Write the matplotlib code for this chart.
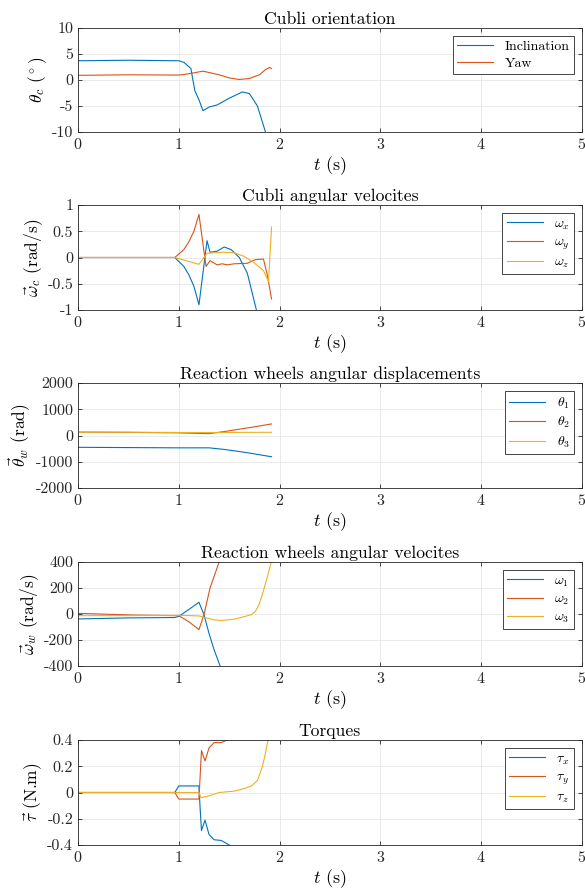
import matplotlib
matplotlib.use("Agg")
import matplotlib.pyplot as plt

plt.rcParams["font.family"] = "serif"
plt.rcParams["font.serif"] = ["cmr10", "DejaVu Serif"]
plt.rcParams["mathtext.fontset"] = "cm"
plt.rcParams["axes.formatter.use_mathtext"] = True
plt.rcParams["axes.unicode_minus"] = False

C1, C2, C3 = "#0072BD", "#D95319", "#EDB120"

# --- Cubli orientation (deg)
t_incl = [0, 0.5, 1.0, 1.05, 1.12, 1.14, 1.16, 1.2, 1.24, 1.3, 1.38, 1.5, 1.63, 1.7, 1.78, 1.86, 1.9]
incl = [3.7, 3.8, 3.7, 3.4, 2.2, 0.0, -2.1, -3.8, -5.9, -5.2, -4.8, -3.5, -2.3, -2.6, -5.0, -10.0, -12.5]
t_yaw = [0, 0.5, 1.0, 1.1, 1.24, 1.4, 1.5, 1.6, 1.7, 1.8, 1.86, 1.9, 1.92]
yaw = [0.9, 1.0, 0.95, 1.2, 1.7, 1.0, 0.4, 0.1, 0.3, 1.0, 2.0, 2.4, 2.2]

# --- Cubli angular velocities (rad/s)
t_wx = [0, 0.5, 0.96, 1.05, 1.1, 1.15, 1.2, 1.28, 1.31, 1.38, 1.45, 1.52, 1.6, 1.68, 1.77, 1.8]
wx = [0, 0, 0, -0.17, -0.33, -0.55, -0.9, 0.32, 0.1, 0.12, 0.2, 0.15, 0.0, -0.3, -1.0, -1.3]
t_wy = [0, 0.5, 0.96, 1.05, 1.1, 1.15, 1.2, 1.27, 1.31, 1.38, 1.43, 1.48, 1.55, 1.68, 1.76, 1.84, 1.88, 1.92]
wy = [0, 0, 0, 0.15, 0.3, 0.5, 0.82, -0.17, -0.06, -0.14, -0.12, -0.14, -0.12, -0.11, -0.04, -0.03, -0.35, -0.79]
t_wz = [0, 0.5, 0.96, 1.2, 1.28, 1.45, 1.55, 1.65, 1.74, 1.84, 1.89, 1.92]
wz = [0, 0, 0, -0.13, 0.08, 0.1, 0.09, 0.02, -0.09, -0.25, -0.46, 0.58]

# --- Reaction wheels angular displacements (rad)
t_th = [0, 0.5, 1.0, 1.3, 1.45, 1.6, 1.75, 1.92]
th1 = [-450, -460, -470, -470, -530, -610, -700, -810]
th2 = [130, 120, 100, 70, 150, 240, 330, 440]
th3 = [130, 125, 115, 110, 115, 118, 120, 122]

# --- Reaction wheels angular velocities (rad/s)
t_om1 = [0, 0.5, 0.96, 1.0, 1.1, 1.2, 1.25, 1.3, 1.35, 1.41, 1.45]
om1 = [-38, -30, -27, -18, 35, 90, -5, -150, -275, -400, -480]
t_om2 = [0, 0.55, 1.0, 1.1, 1.2, 1.25, 1.31, 1.4, 1.48]
om2 = [5, -8, -13, -60, -120, -5, 200, 400, 560]
t_om3 = [0, 0.5, 1.0, 1.2, 1.35, 1.42, 1.55, 1.65, 1.72, 1.76, 1.8, 1.84, 1.88, 1.92]
om3 = [-13, -12, -10, -15, -45, -50, -40, -20, -5, 20, 80, 180, 290, 410]

# --- Torques (N.m)
t_tx = [0, 0.96, 1.0, 1.2, 1.21, 1.225, 1.26, 1.3, 1.35, 1.42, 1.5, 1.55]
tx = [0, 0, 0.05, 0.05, -0.1, -0.29, -0.21, -0.32, -0.36, -0.365, -0.4, -0.42]
t_ty = [0, 0.96, 1.0, 1.2, 1.21, 1.225, 1.26, 1.3, 1.35, 1.42, 1.48, 1.52]
ty = [0, 0, -0.05, -0.05, 0.1, 0.32, 0.24, 0.34, 0.38, 0.38, 0.4, 0.42]
t_tz = [0, 1.2, 1.22, 1.3, 1.4, 1.55, 1.65, 1.72, 1.78, 1.83, 1.86, 1.89]
tz = [0, 0, -0.04, -0.025, 0.0, 0.01, 0.03, 0.05, 0.09, 0.2, 0.3, 0.42]

W, H = 585, 892
fig = plt.figure(figsize=(W / 100, H / 100), dpi=100)

# (top px, bottom px) of each panel
boxes = [(28, 132), (205, 310), (383, 488), (562, 666), (740, 845)]

panels = [
    dict(title="Cubli orientation", ylabel=r"$\theta_c$ $(^\circ)$", ylim=(-10, 10), yticks=[-10, -5, 0, 5, 10],
         series=[(t_incl, incl, C1, "Inclination"), (t_yaw, yaw, C2, "Yaw")]),
    dict(title="Cubli angular velocites", ylabel=r"$\vec{\omega}_c$ (rad/s)", ylim=(-1, 1), yticks=[-1, -0.5, 0, 0.5, 1],
         series=[(t_wx, wx, C1, r"$\omega_x$"), (t_wy, wy, C2, r"$\omega_y$"), (t_wz, wz, C3, r"$\omega_z$")]),
    dict(title="Reaction wheels angular displacements", ylabel=r"$\vec{\theta}_w$ (rad)", ylim=(-2000, 2000),
         yticks=[-2000, -1000, 0, 1000, 2000],
         series=[(t_th, th1, C1, r"$\theta_1$"), (t_th, th2, C2, r"$\theta_2$"), (t_th, th3, C3, r"$\theta_3$")]),
    dict(title="Reaction wheels angular velocites", ylabel=r"$\vec{\omega}_w$ (rad/s)", ylim=(-400, 400),
         yticks=[-400, -200, 0, 200, 400],
         series=[(t_om1, om1, C1, r"$\omega_1$"), (t_om2, om2, C2, r"$\omega_2$"), (t_om3, om3, C3, r"$\omega_3$")]),
    dict(title="Torques", ylabel=r"$\vec{\tau}$ (N.m)", ylim=(-0.4, 0.4), yticks=[-0.4, -0.2, 0, 0.2, 0.4],
         series=[(t_tx, tx, C1, r"$\tau_x$"), (t_ty, ty, C2, r"$\tau_y$"), (t_tz, tz, C3, r"$\tau_z$")]),
]

def fmt(v):
    if abs(v - round(v)) < 1e-9:
        return str(int(round(v)))
    return ("%g" % v)

for (top, bot), p in zip(boxes, panels):
    ax = fig.add_axes([78 / W, 1 - bot / H, 504 / W, (bot - top) / H])
    for tt, yy, c, lab in p["series"]:
        ax.plot(tt, yy, color=c, lw=0.8, label=lab)
    ax.set_xlim(0, 5)
    ax.set_ylim(*p["ylim"])
    ax.set_xticks([0, 1, 2, 3, 4, 5])
    ax.set_yticks(p["yticks"])
    ax.set_yticklabels([fmt(v) for v in p["yticks"]])
    ax.grid(True, color="#e6e6e6", lw=0.6)
    ax.set_axisbelow(True)
    ax.tick_params(direction="in", top=True, right=True, labelsize=11.5, length=3, width=0.6, colors="#262626")
    for s in ax.spines.values():
        s.set_color("#262626")
        s.set_linewidth(0.6)
    ax.set_title(p["title"], fontsize=12.7, pad=3)
    ax.set_xlabel(r"$t$ (s)", fontsize=13, labelpad=2)
    ax.set_ylabel(p["ylabel"], fontsize=12.5, labelpad=2)
    leg = ax.legend(loc="upper right", fontsize=10, fancybox=False, framealpha=1, edgecolor="#262626",
                    handlelength=2.6, borderpad=0.3, labelspacing=0.3, borderaxespad=0.6)
    leg.get_frame().set_linewidth(0.6)

fig.savefig("out.png", dpi=100)
